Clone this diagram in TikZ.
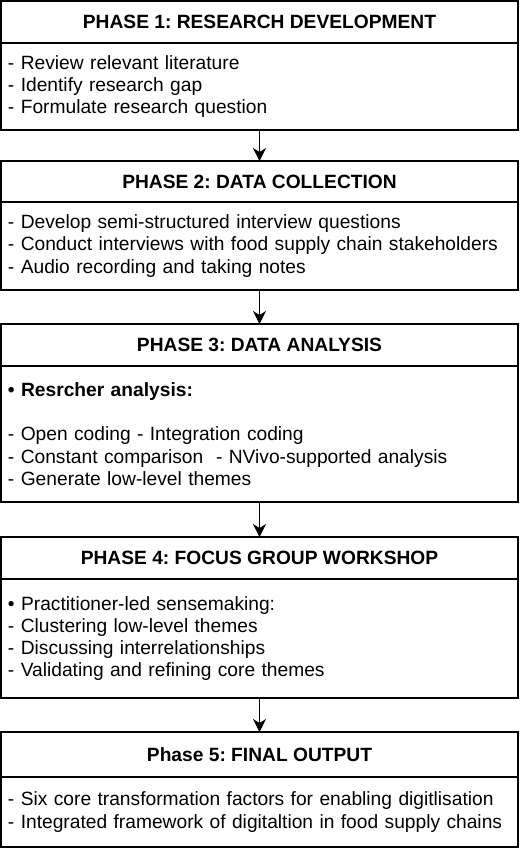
\documentclass[tikz,border=0pt]{standalone}
\usepackage{fontspec}
\setmainfont{Liberation Sans}
\usetikzlibrary{positioning,arrows.meta}
\frenchspacing
\begin{document}
\begin{tikzpicture}[x=1pt,y=1pt,
  head/.style={draw,line width=1.3pt,outer sep=0pt,inner sep=0pt,
    minimum width=517pt,minimum height=#1,
    font=\bfseries\fontsize{19.2}{22.3}\selectfont},
  body/.style={draw,line width=1.3pt,outer sep=0pt,inner xsep=7pt,inner ysep=0pt,
    minimum width=517pt,text width=503pt,minimum height=#1,align=left,
    font=\fontsize{19.2}{22.3}\selectfont},
  flow/.style={-{Stealth[length=13pt,width=13pt,inset=4pt]},line width=1.3pt}]
  \useasboundingbox (0,0) rectangle (520,-855);

  \node[head=42pt] (p1h) at (259.5,-22) {PHASE 1: RESEARCH DEVELOPMENT};
  \node[body=87pt,below=0pt of p1h] (p1b) {- Review relevant literature\\
    - Identify research gap\\
    - Formulate research question};

  \node[head=41pt,below=31pt of p1b] (p2h) {PHASE 2: DATA COLLECTION};
  \node[body=88pt,below=0pt of p2h] (p2b) {- Develop semi-structured interview questions\\
    - Conduct interviews with food supply chain stakeholders\\
    - Audio recording and taking notes};

  \node[head=42pt,below=34pt of p2b] (p3h) {PHASE 3: DATA ANALYSIS};
  \node[body=136pt,below=0pt of p3h] (p3b) {\textbf{• Resrcher analysis:}\\[22pt]
    - Open coding - Integration coding\\
    - Constant comparison\ \ - NVivo-supported analysis\\
    - Generate low-level themes};

  \node[head=42pt,below=35pt of p3b] (p4h) {PHASE 4: FOCUS GROUP WORKSHOP};
  \node[body=119pt,below=0pt of p4h] (p4b) {• Practitioner-led sensemaking:\\
    - Clustering low-level themes\\
    - Discussing interrelationships\\
    - Validating and refining core themes\\[12pt]};

  \node[head=45pt,below=34pt of p4b] (p5h) {Phase 5: FINAL OUTPUT};
  \node[body=70pt,below=0pt of p5h] (p5b) {- Six core transformation factors for enabling digitlisation\\
    - Integrated framework of digitaltion in food supply chains};

  % connectors
  \draw[flow] (p1b) -- (p2h);
  \draw[flow] (p2b) -- (p3h);
  \draw[flow] (p3b) -- (p4h);
  \draw[flow] (p4b) -- (p5h);
\end{tikzpicture}
\end{document}
